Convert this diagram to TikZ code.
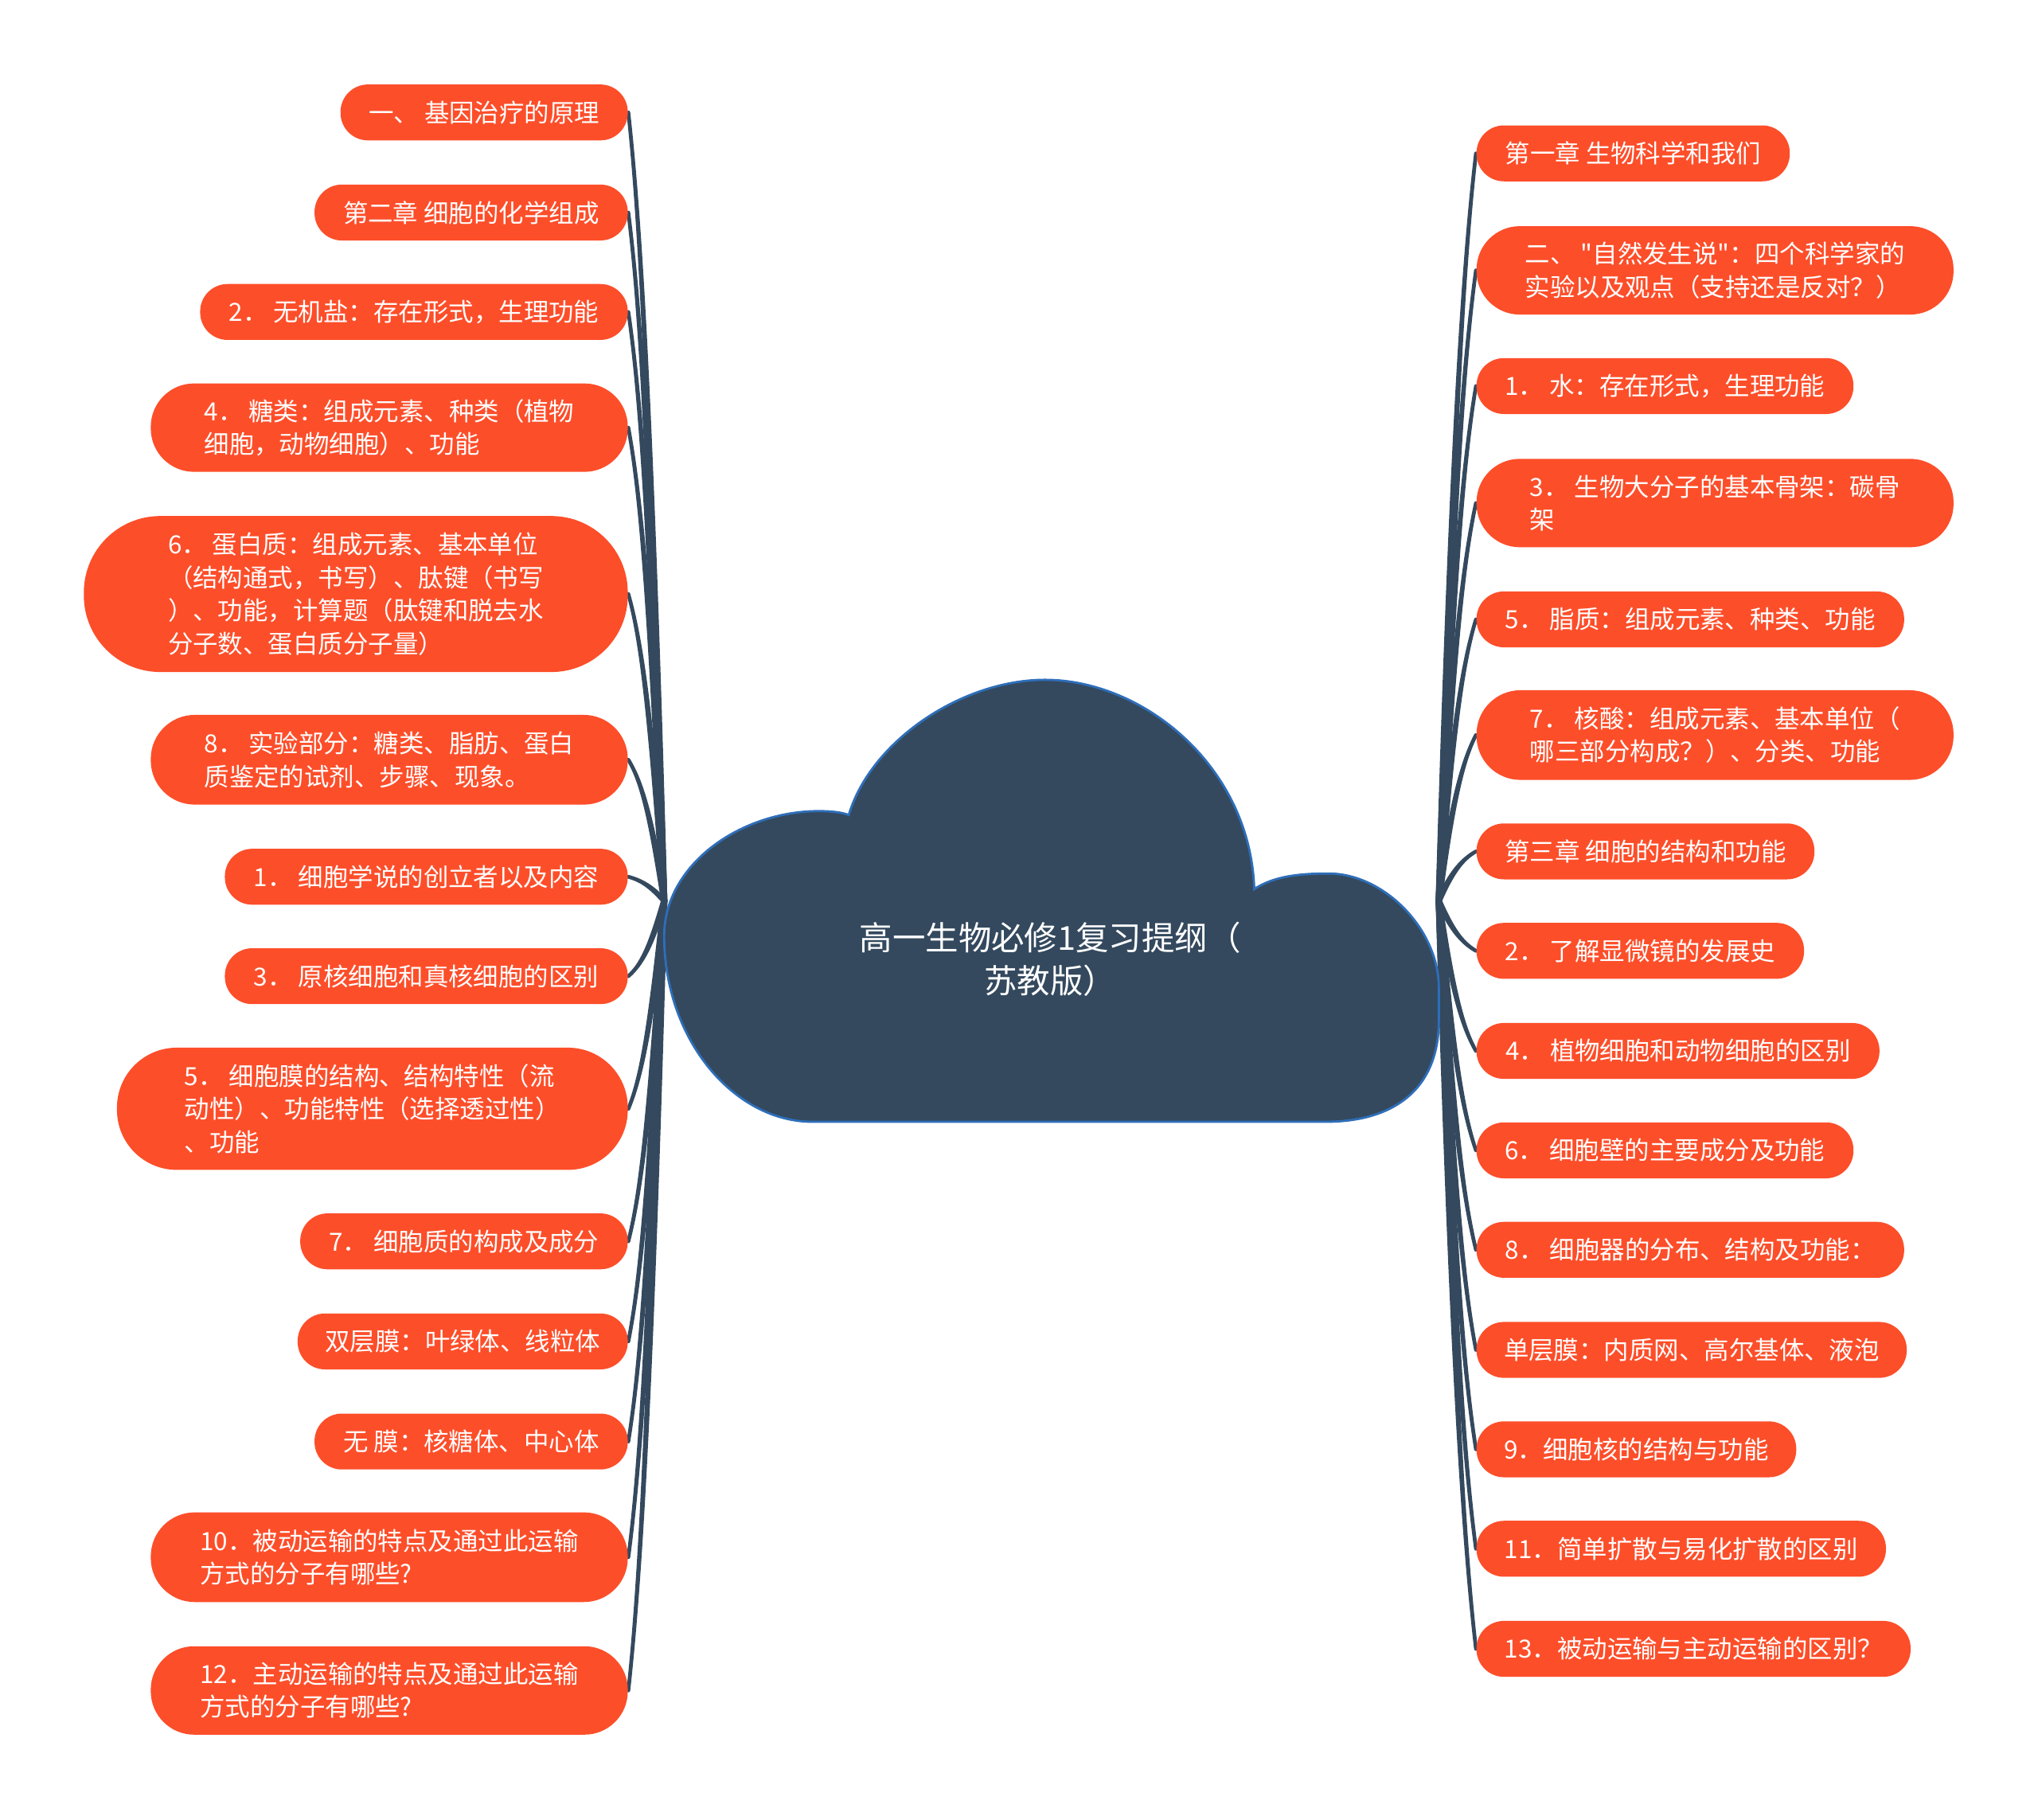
\documentclass[tikz,border=0pt]{standalone}
\usepackage{fontspec}
\setmainfont{Noto Sans CJK SC}[Ligatures=TeXOff]
\usetikzlibrary{calc,backgrounds}
\definecolor{nodeorange}{RGB}{253,78,42}
\definecolor{slate}{RGB}{52,73,94}
\definecolor{cloudedge}{RGB}{46,110,185}
\newlength\pxu \setlength\pxu{0.464548pt}
\newcommand\mnode[6]{%
  \node[pill, minimum width={(#3-#2)*\pxu}, minimum height={#5*\pxu},
        rounded corners={0.49*#5*\pxu}] (#1) at ({(#2+#3)/2},#4) {#6};}
\newcommand\conn[3]{%
  \path[lk] let \p1=(#1), \p2=(#2) in
    ({\x1-1.0*\pxu},\y1)
    .. controls ({\x1+(#3)*10*\pxu-1.0*\pxu},{\y1+0.6*(\y2-\y1)}) and ({\x2-(#3)*10*\pxu},{\y2+0.15*(\y1-\y2)}) .. (\x2,\y2)
    .. controls ({\x2-(#3)*10*\pxu},{\y2+0.15*(\y1-\y2)}) and ({\x1+(#3)*10*\pxu+1.0*\pxu},{\y1+0.6*(\y2-\y1)}) .. ({\x1+1.0*\pxu},\y1)
    -- cycle;}
\begin{document}
\begin{tikzpicture}[x=0.464548pt, y=-0.464548pt,
  pill/.style={fill=nodeorange, text=white, inner sep=0pt, align=left,
               font=\fontsize{8.95}{11.8}\selectfont},
  lk/.style={fill=slate, draw=slate, line width=1.35pt, line join=round},
  titletext/.style={text=white, align=center, inner sep=0pt,
               font=\fontsize{11.8}{15.3}\selectfont}]
\useasboundingbox (0,0) rectangle (1568,1399.6);

% central cloud
\path[fill=slate, draw=cloudedge, line width=0.8pt]
 (653,627) .. controls (670,570) and (740,523) .. (804,523)
 .. controls (880,523) and (962,590) .. (965,684)
 .. controls (980,674) and (1000,672) .. (1022,672)
 .. controls (1065,672) and (1107,715) .. (1107,760)
 -- (1107,785)
 .. controls (1107,840) and (1070,863) .. (1020,863)
 -- (625,863)
 .. controls (565,863) and (511,800) .. (511,720)
 .. controls (511,665) and (570,624) .. (630,624)
 .. controls (640,624) and (648,625) .. (653,627) -- cycle;
\node[titletext] (title) at (808,738) {高一生物必修1复习提纲（\\苏教版）};

\coordinate (rootL) at (511,693);
\coordinate (rootR) at (1107,693);

% left branches
\mnode{l1}{262}{483}{86.5}{43}{一、 基因治疗的原理}
\mnode{l2}{242}{483}{163.5}{43}{第二章 细胞的化学组成}
\mnode{l3}{154}{483}{240}{43}{2． 无机盐：存在形式，生理功能}
\mnode{l4}{116}{483}{329}{68}{4． 糖类：组成元素、种类（植物\\细胞，动物细胞）、功能}
\mnode{l5}{64.5}{483}{457}{120}{6． 蛋白质：组成元素、基本单位\\（结构通式，书写）、肽键（书写\\）、功能，计算题（肽键和脱去水\\分子数、蛋白质分子量）}
\mnode{l6}{116}{483}{584.5}{69}{8． 实验部分：糖类、脂肪、蛋白\\质鉴定的试剂、步骤、现象。}
\mnode{l7}{173}{483}{674.5}{43}{1． 细胞学说的创立者以及内容}
\mnode{l8}{173}{483}{751}{43}{3． 原核细胞和真核细胞的区别}
\mnode{l9}{90}{483}{853}{94}{5． 细胞膜的结构、结构特性（流\\动性）、功能特性（选择透过性）\\、功能}
\mnode{l10}{231}{483}{955}{43}{7． 细胞质的构成及成分}
\mnode{l11}{229}{483}{1032}{43}{双层膜：叶绿体、线粒体}
\mnode{l12}{242}{483}{1109}{43}{无 膜：核糖体、中心体}
\mnode{l13}{116}{483}{1198}{69}{10．被动运输的特点及通过此运输\\方式的分子有哪些?}
\mnode{l14}{116}{483}{1300.5}{68}{12．主动运输的特点及通过此运输\\方式的分子有哪些?}

% right branches
\mnode{r1}{1136}{1377}{118}{43}{第一章 生物科学和我们}
\mnode{r2}{1136}{1503}{208}{68}{二、  "自然发生说"：四个科学家的\\实验以及观点（支持还是反对？）}
\mnode{r3}{1136}{1426}{297}{43}{1． 水：存在形式，生理功能}
\mnode{r4}{1136}{1503}{387}{68}{3． 生物大分子的基本骨架：碳骨\\架}
\mnode{r5}{1136}{1465}{476.5}{43}{5． 脂质：组成元素、种类、功能}
\mnode{r6}{1136}{1503}{565.5}{69}{7． 核酸：组成元素、基本单位（\\哪三部分构成？）、分类、功能}
\mnode{r7}{1136}{1396}{655}{43}{第三章 细胞的结构和功能}
\mnode{r8}{1136}{1388}{731.5}{43}{2． 了解显微镜的发展史}
\mnode{r9}{1136}{1446}{808.5}{43}{4． 植物细胞和动物细胞的区别}
\mnode{r10}{1136}{1426}{885}{43}{6． 细胞壁的主要成分及功能}
\mnode{r11}{1136}{1465}{961.5}{43}{8． 细胞器的分布、结构及功能：}
\mnode{r12}{1136}{1467}{1038.5}{43}{单层膜：内质网、高尔基体、液泡}
\mnode{r13}{1136}{1382}{1115}{43}{9．细胞核的结构与功能}
\mnode{r14}{1136}{1451}{1191.5}{43}{11．简单扩散与易化扩散的区别}
\mnode{r15}{1136}{1470}{1268.5}{43}{13．被动运输与主动运输的区别？}

\begin{scope}[on background layer]
\foreach \i in {1,...,14} {\conn{rootL}{l\i.east}{-1}}
\foreach \i in {1,...,15} {\conn{rootR}{r\i.west}{1}}
\end{scope}
\end{tikzpicture}
\end{document}
